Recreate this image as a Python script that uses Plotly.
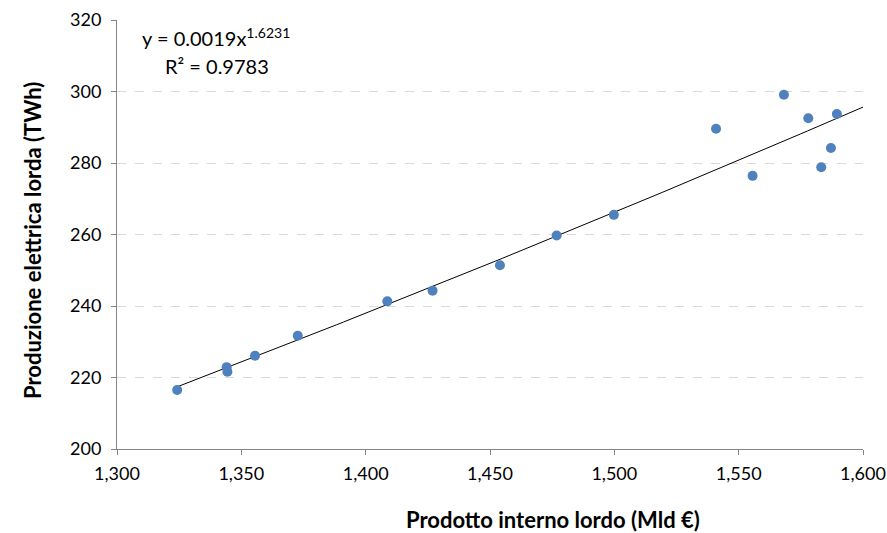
import numpy as np
import plotly.graph_objects as go

pil = [1324.2, 1344.1, 1344.4, 1355.5, 1372.7, 1408.7, 1426.9, 1454.0, 1476.8,
       1499.8, 1540.9, 1555.6, 1568.2, 1578.0, 1583.2, 1587.1, 1589.5]
prod = [216.5, 222.9, 221.6, 226.1, 231.7, 241.3, 244.3, 251.4, 259.7,
        265.5, 289.6, 276.4, 299.1, 292.5, 278.8, 284.2, 293.7]

x_ticks = [1300, 1350, 1400, 1450, 1500, 1550, 1600]
x_tick_labels = ["1,300", "1,350", "1,400", "1,450", "1,500", "1,550", "1,600"]
y_ticks = [200, 220, 240, 260, 280, 300, 320]

# power-law trend (log-log least squares)
b, lna = np.polyfit(np.log(pil), np.log(prod), 1)
xt = np.linspace(min(pil), 1600, 100)
yt = np.exp(lna) * xt ** b

font = "Lato, 'Open Sans', sans-serif"
fig = go.Figure()
fig.add_trace(go.Scatter(x=xt, y=yt, mode="lines",
                         line=dict(color="black", width=1), hoverinfo="skip"))
fig.add_trace(go.Scatter(x=pil, y=prod, mode="markers",
                         marker=dict(color="#4F81BD", size=10)))

fig.add_annotation(x=0.031, y=0.995, xref="paper", yref="paper", xanchor="left", yanchor="top",
                   text="y = 0.0019x<sup>1.6231</sup>", showarrow=False,
                   font=dict(family=font, size=20, color="black"))
fig.add_annotation(x=0.062, y=0.925, xref="paper", yref="paper", xanchor="left", yanchor="top",
                   text="R² = 0.9783", showarrow=False,
                   font=dict(family=font, size=20, color="black"))
# axis titles (paper coords: plot area spans x 117..863 px, y 20..449 px)
fig.add_annotation(x=(553 - 117) / 746, y=-(519 - 449) / 429, xref="paper", yref="paper",
                   xanchor="center", yanchor="middle",
                   text="<b>Prodotto interno lordo (Mld €)</b>", showarrow=False,
                   font=dict(family=font, size=22, color="black"))
fig.add_annotation(x=-(117 - 32) / 746, y=(449 - 241) / 429, xref="paper", yref="paper",
                   xanchor="center", yanchor="middle", textangle=-90,
                   text="<b>Produzione elettrica lorda (TWh)</b>", showarrow=False,
                   font=dict(family=font, size=22, color="black"))

fig.update_layout(
    width=887, height=533, showlegend=False,
    paper_bgcolor="white", plot_bgcolor="white",
    margin=dict(l=117, r=24, t=20, b=84, autoexpand=False),
    font=dict(family=font, size=18, color="black"),
    xaxis=dict(range=[1300, 1600], tickvals=x_ticks, ticktext=x_tick_labels,
               showgrid=False, zeroline=False, showline=True, linecolor="#868686",
               ticks="outside", ticklen=5, tickcolor="#868686", automargin=False,
               ticklabelstandoff=3),
    yaxis=dict(range=[200, 320], tickvals=y_ticks,
               showgrid=True, gridcolor="#D9D9D9", griddash="dash", gridwidth=1,
               zeroline=False, showline=True, linecolor="#868686",
               ticks="outside", ticklen=5, tickcolor="#868686", automargin=False,
               ticklabelstandoff=6),
)
fig.write_html("out.html")
